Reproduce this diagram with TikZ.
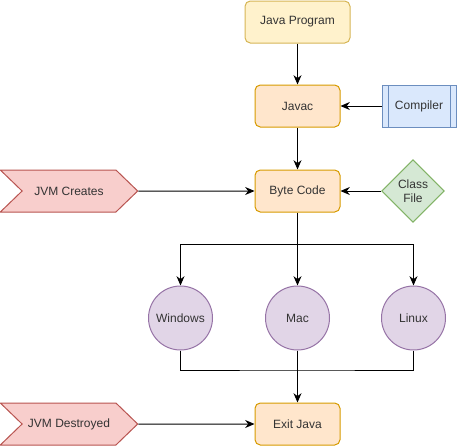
\documentclass[tikz,border=0pt]{standalone}
\usepackage{fontspec}
\setmainfont{Liberation Sans}
\usetikzlibrary{positioning,arrows.meta,shapes.geometric,shapes.symbols}
\definecolor{yelfill}{HTML}{FFF2CC}
\definecolor{yeldraw}{HTML}{D6B656}
\definecolor{orafill}{HTML}{FFE6CC}
\definecolor{oradraw}{HTML}{D79B00}
\definecolor{blufill}{HTML}{DAE8FC}
\definecolor{bludraw}{HTML}{6C8EBF}
\definecolor{grefill}{HTML}{D5E8D4}
\definecolor{gredraw}{HTML}{82B366}
\definecolor{redfill}{HTML}{F8CECC}
\definecolor{reddraw}{HTML}{B85450}
\definecolor{purfill}{HTML}{E1D5E7}
\definecolor{purdraw}{HTML}{9673A6}
\definecolor{txt}{HTML}{333333}

\begin{document}
\begin{tikzpicture}[x=0.75pt, y=-0.75pt, >={Stealth[length=7pt,width=6pt]},
    font=\fontsize{9}{10.5}\selectfont, text=txt, line width=0.75pt,
    b/.style={draw=oradraw, fill=orafill, rounded corners=4pt, align=center,
              minimum height=31.5pt, minimum width=63.75pt},
    os/.style={circle, draw=purdraw, fill=purfill, minimum size=48pt, inner sep=0pt},
    evt/.style={signal, signal to=east, signal from=west, signal pointer angle=88,
                draw=reddraw, fill=redfill, minimum height=31.5pt, minimum width=103pt},
    proc/.style={draw=bludraw, fill=blufill, minimum height=31.5pt, minimum width=55.5pt,
                 path picture={
                   \draw[bludraw] ([xshift=4.5pt]path picture bounding box.north west)
                     -- ([xshift=4.5pt]path picture bounding box.south west);
                   \draw[bludraw] ([xshift=-4.5pt]path picture bounding box.north east)
                     -- ([xshift=-4.5pt]path picture bounding box.south east);}},
    dec/.style={diamond, aspect=1, draw=gredraw, fill=grefill, minimum size=47pt,
                inner sep=0pt, align=center}]
    \useasboundingbox (0,0) rectangle (457,446);

    \node[b, draw=yeldraw, fill=yelfill, minimum width=78.75pt] (prog) at (297.5,22) {Java Program};
    \node[b] (javac) at (297.5,106) {Javac};
    \node[b] (byte)  at (297.5,191) {Byte Code};
    \node[b] (exit)  at (297.5,424) {Exit Java};

    \node[proc] (comp) at (419,106) {Compiler};
    \node[dec]  (cls)  at (413,191) {Class\\File};

    \node[evt] (jvmc) at (69,191) {JVM Creates};
    \node[evt] (jvmd) at (69,424) {JVM Destroyed};

    \node[os] (win) at (180.5,318) {Windows};
    \node[os] (mac) at (297.5,318) {Mac};
    \node[os] (lin) at (413.5,318) {Linux};

    \coordinate (fork)  at (297.5,244);
    \coordinate (merge) at (297.5,370);

    \foreach \a/\b in {prog/javac, javac/byte, byte/mac, mac/exit} \draw[->] (\a) -- (\b);
    \foreach \a/\b in {comp/javac, cls/byte, jvmc/byte, jvmd/exit} \draw[->] (\a) -- (\b);
    \draw[->] (fork) -| (win.north);
    \draw[->] (fork) -| (lin.north);
    \draw (win.south) |- (merge) -| (lin.south);
  \end{tikzpicture}
\end{document}
